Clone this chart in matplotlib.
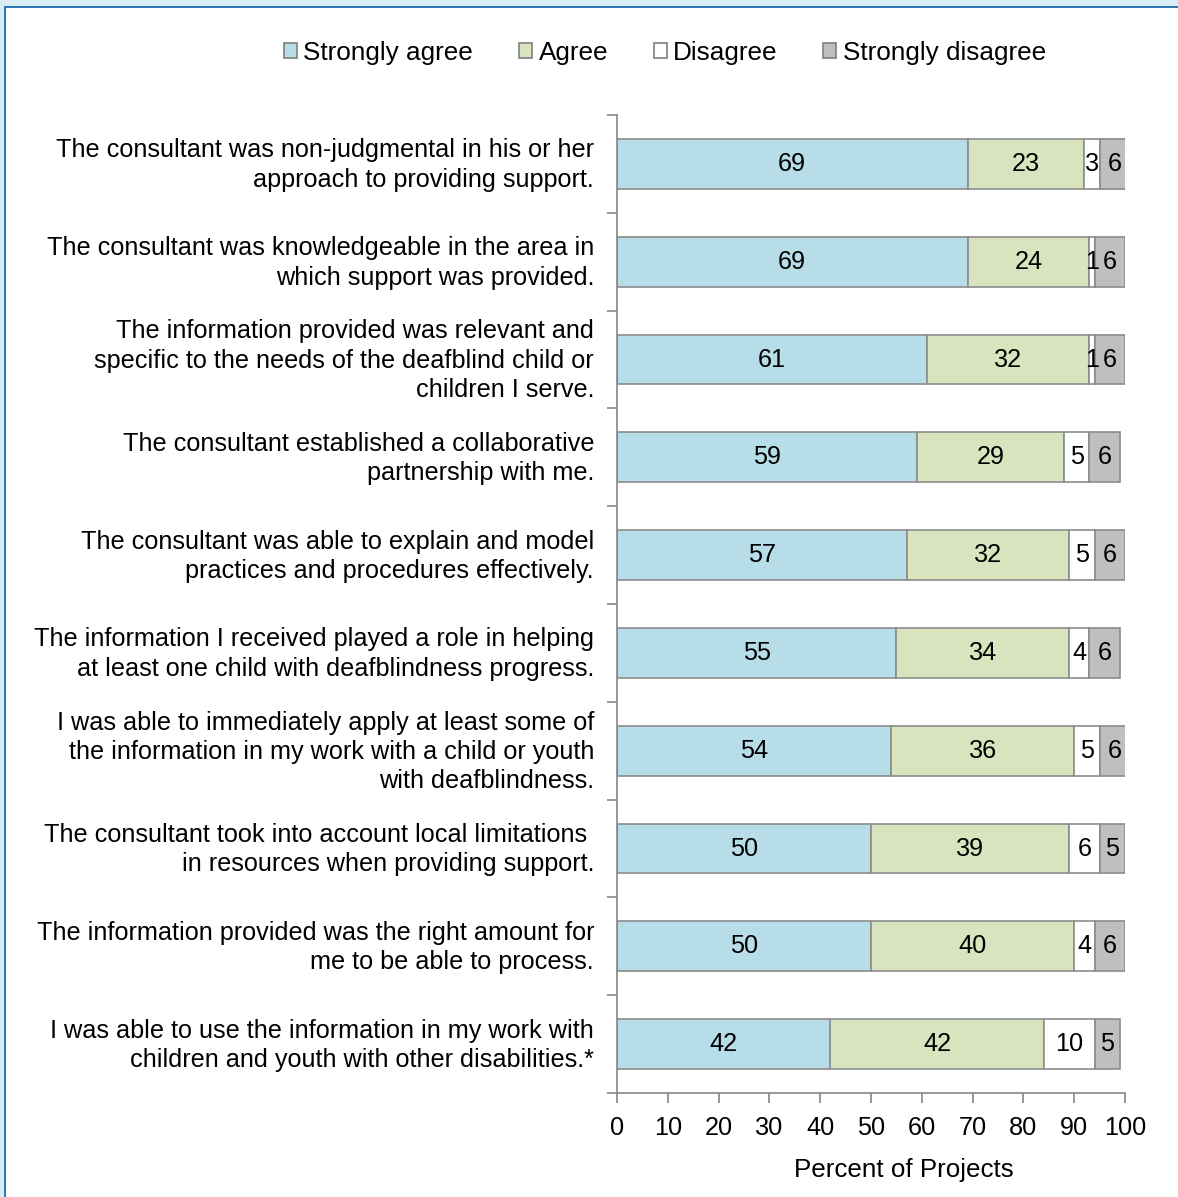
import numpy as np
import matplotlib.pyplot as plt
import matplotlib.transforms as mtransforms
from matplotlib.patches import Rectangle, Patch

plt.rcParams['font.family'] = ['Liberation Sans', 'DejaVu Sans']

statements = [
    "The consultant was non-judgmental in his or her\napproach to providing support.",
    "The consultant was knowledgeable in the area in\nwhich support was provided.",
    "The information provided was relevant and\nspecific to the needs of the deafblind child or\nchildren I serve.",
    "The consultant established a collaborative\npartnership with me.",
    "The consultant was able to explain and model\npractices and procedures effectively.",
    "The information I received played a role in helping\nat least one child with deafblindness progress.",
    "I was able to immediately apply at least some of\nthe information in my work with a child or youth\nwith deafblindness.",
    "The consultant took into account local limitations \nin resources when providing support.",
    "The information provided was the right amount for\nme to be able to process.",
    "I was able to use the information in my work with\nchildren and youth with other disabilities.*",
]
strongly_agree = [69, 69, 61, 59, 57, 55, 54, 50, 50, 42]
agree = [23, 24, 32, 29, 32, 34, 36, 39, 40, 42]
disagree = [3, 1, 1, 5, 5, 4, 5, 6, 4, 10]
strongly_disagree = [6, 6, 6, 6, 6, 6, 6, 5, 6, 5]

series = [
    ("Strongly agree", strongly_agree, "#b7dde8"),
    ("Agree", agree, "#d7e4bd"),
    ("Disagree", disagree, "#ffffff"),
    ("Strongly disagree", strongly_disagree, "#bfbfbf"),
]

FS = 18.2
W, H = 1178, 1197
fig = plt.figure(figsize=(W / 100, H / 100), dpi=100)
ax = fig.add_axes([617 / W, 1 - 1093 / H, (1125 - 617) / W, (1093 - 115) / H])

y = np.arange(len(statements))
left = np.zeros(len(statements))
edge = "#8c8c8c"
for name, vals, color in series:
    vals = np.array(vals, dtype=float)
    ax.barh(y, vals, left=left, height=0.51, color=color, edgecolor=edge,
            linewidth=1.2, label=name)
    for yi, (l, v) in enumerate(zip(left, vals)):
        ax.text(l + v / 2, yi, f"{int(v)}", ha='center', va='center',
                fontsize=FS, color='black')
    left += vals

ax.set_xlim(0, 100)
ax.set_ylim(len(statements) - 0.5, -0.5)
ax.set_xticks(np.arange(0, 101, 10))
ax.tick_params(axis='x', labelsize=FS, length=7, width=1.2, color='#868686', pad=9.5)

# category boundaries carry the tick marks on the y axis
ax.set_yticks(y)
ax.set_yticklabels(statements, fontsize=FS, linespacing=1.28)
ax.tick_params(axis='y', which='major', length=0, pad=16.5)
ax.set_yticks(np.arange(-0.5, len(statements)), minor=True)
ax.tick_params(axis='y', which='minor', length=7, width=1.2, color='#868686')

# nudge the statement labels up a few pixels
shift = mtransforms.ScaledTranslation(0, 4 / 100, fig.dpi_scale_trans)
for lbl in ax.get_yticklabels():
    lbl.set_transform(lbl.get_transform() + shift)

for side in ['top', 'right']:
    ax.spines[side].set_visible(False)
for side in ['left', 'bottom']:
    ax.spines[side].set_color('#868686')
    ax.spines[side].set_linewidth(1.2)

ax.set_xlabel("Percent of Projects", fontsize=FS + 0.5, labelpad=13, x=0.565)

handles = [Patch(facecolor=c, edgecolor='#7f7f7f', linewidth=1.2, label=n)
           for n, _, c in series]
fig.legend(handles=handles, loc='center', bbox_to_anchor=(665 / W, 1 - 53 / H),
           ncol=4, frameon=False, fontsize=FS + 0.6, handlelength=0.5, handleheight=0.5,
           handletextpad=0.25, columnspacing=1.75)

# light frame strip along the top and left edges
fig.patches.append(Rectangle((0, 1 - 6 / H), 1, 6 / H, transform=fig.transFigure,
                             facecolor='#d7ecf3', edgecolor='none'))
fig.patches.append(Rectangle((0, 0), 4 / W, 1, transform=fig.transFigure,
                             facecolor='#d7ecf3', edgecolor='none'))
fig.patches.append(Rectangle((4 / W, 1 - 8 / H), 1, 2 / H, transform=fig.transFigure,
                             facecolor='#2e79b0', edgecolor='none'))
fig.patches.append(Rectangle((4 / W, 0), 2 / W, 1 - 6 / H, transform=fig.transFigure,
                             facecolor='#2e79b0', edgecolor='none'))

fig.savefig("out.png", dpi=100)
